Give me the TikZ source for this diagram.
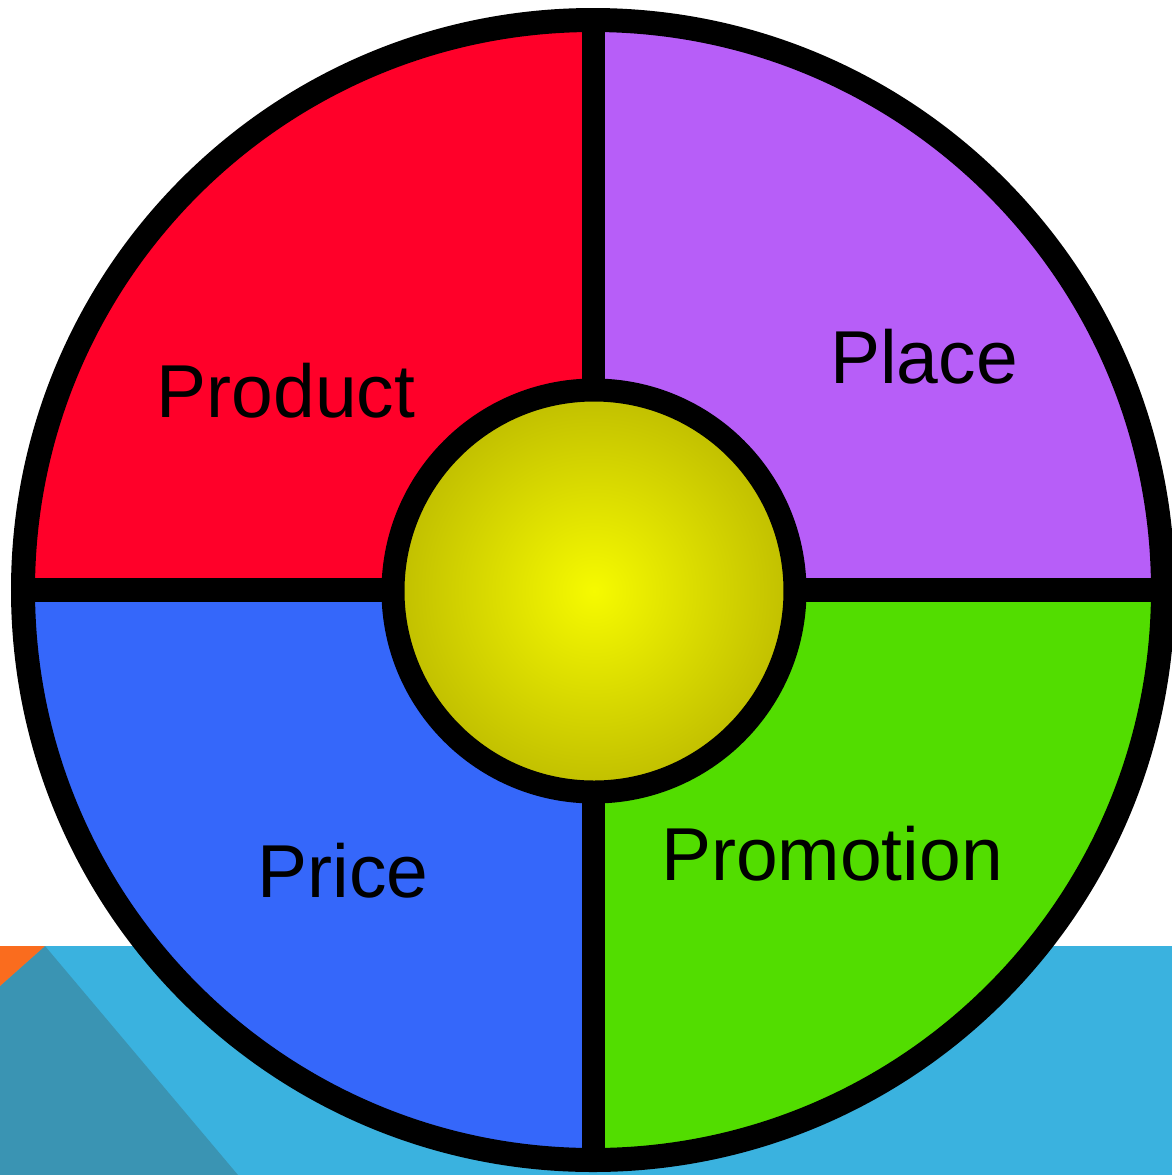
\documentclass[tikz,border=0pt]{standalone}
\usepackage{fontspec}
\setmainfont{Liberation Sans}
\definecolor{mixred}{RGB}{255, 0, 41}
\definecolor{mixpurple}{RGB}{183, 94, 248}
\definecolor{mixblue}{RGB}{53, 103, 250}
\definecolor{mixgreen}{RGB}{82, 221, 0}
\definecolor{stripblue}{RGB}{58, 178, 223}
\definecolor{stripteal}{RGB}{58, 148, 179}
\definecolor{striporange}{RGB}{250, 108, 30}
\definecolor{hubyellow}{RGB}{246, 250, 0}
\definecolor{hubolive}{RGB}{192, 190, 0}

\begin{document}
\begin{tikzpicture}[x=0.5pt, y=-0.5pt,
    label/.style={anchor=base, font=\fontsize{37.5}{45}\selectfont, text=black, inner sep=0pt}]

\useasboundingbox (0,0) rectangle (1172,1175);

% Banda de fondo
\fill[stripblue] (0,946) rectangle (1172,1175);
\fill[stripteal] (0,986) -- (45,946) -- (238,1175) -- (0,1175) -- cycle;
\fill[striporange] (0,946) -- (45,946) -- (0,986) -- cycle;

% Centro de la rueda
\coordinate (wheel) at (593,590);
\coordinate (hub) at (594,591);

% Cuadrantes
\begin{scope}
  \clip (wheel) circle (570);
  \fill[mixred] (0,0) rectangle (wheel);
  \fill[mixpurple] (1172,0) rectangle (wheel);
  \fill[mixblue] (0,1175) rectangle (wheel);
  \fill[mixgreen] (1172,1175) rectangle (wheel);
\end{scope}

% Borde y divisiones
\draw[line width=12pt] (wheel) circle (570);
\draw[line width=12pt] (22,590) -- (1163,590);
\draw[line width=11.5pt] (593,20) -- (593,1160);

% Círculo central
\shade[inner color=hubyellow, outer color=hubolive] (hub) circle (201);
\draw[line width=11.5pt] (hub) circle (201);

% Etiquetas
\node[label] (product) at (286,417) {Product};
\node[label] (place) at (924,383) {Place};
\node[label] (price) at (343,897) {Price};
\node[label] (promotion) at (832,880) {Promotion};

\end{tikzpicture}
\end{document}
